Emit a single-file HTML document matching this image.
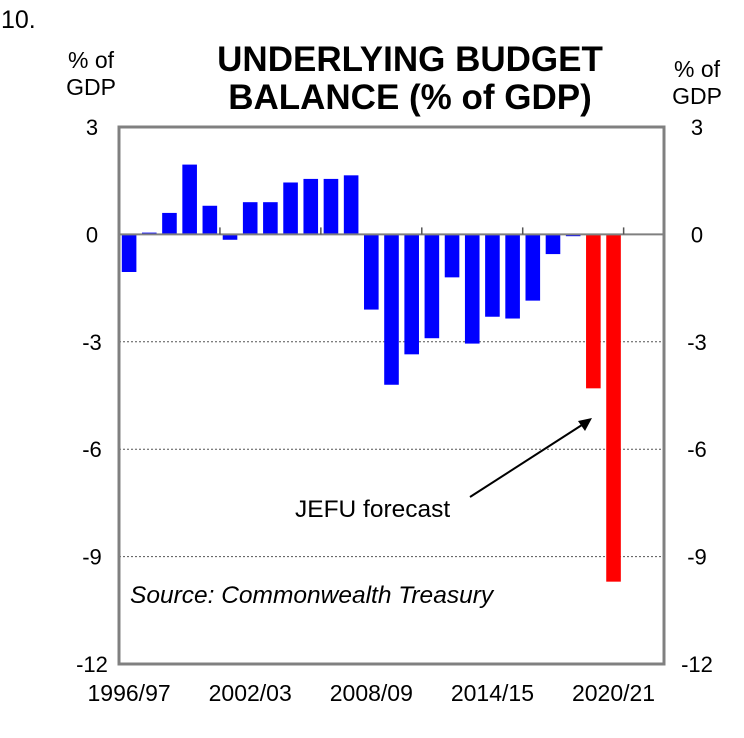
<!DOCTYPE html>
<html><head><meta charset="utf-8"><style>
body{margin:0;background:#fff;font-family:"Liberation Sans",Arial,sans-serif}
svg text{font-family:"Liberation Sans",Arial,sans-serif}
</style></head><body>
<svg id="chart" width="744" height="733" xmlns="http://www.w3.org/2000/svg">
<text x="1" y="28" font-size="25">10.</text>
<text x="410" y="71" font-size="35" font-weight="bold" text-anchor="middle">UNDERLYING BUDGET</text>
<text x="410" y="109" font-size="35" font-weight="bold" text-anchor="middle">BALANCE (% of GDP)</text>
<text x="91" y="68" font-size="23" text-anchor="middle">% of</text>
<text x="91" y="95" font-size="23" text-anchor="middle">GDP</text>
<text x="697" y="77" font-size="23" text-anchor="middle">% of</text>
<text x="697" y="104" font-size="23" text-anchor="middle">GDP</text>
<g id="grid"></g><g id="bars"></g><g id="axes"></g>
<text x="130" y="603" font-size="24.5" font-style="italic">Source: Commonwealth Treasury</text>
<text x="295" y="517" font-size="24.5">JEFU forecast</text>
<line x1="470" y1="497" x2="585" y2="423" stroke="#000" stroke-width="2"/>
<polygon points="592,418 578,421 585,431" fill="#000"/>
</svg>
<script>
const categories=["1996/97","1997/98","1998/99","1999/00","2000/01","2001/02","2002/03","2003/04","2004/05","2005/06","2006/07","2007/08","2008/09","2009/10","2010/11","2011/12","2012/13","2013/14","2014/15","2015/16","2016/17","2017/18","2018/19","2019/20","2020/21"];
const values=[-1.05,0.05,0.6,1.95,0.8,-0.15,0.9,0.9,1.45,1.55,1.55,1.65,-2.1,-4.2,-3.35,-2.9,-1.2,-3.05,-2.3,-2.35,-1.85,-0.55,-0.05,-4.3,-9.7];
const forecast=[0,0,0,0,0,0,0,0,0,0,0,0,0,0,0,0,0,0,0,0,0,0,0,1,1];
const yTicks=[3,0,-3,-6,-9,-12];
const xTickLabels=["1996/97","2002/03","2008/09","2014/15","2020/21"];
const L=119,R=664,T=127,B=664,slots=27,yMax=3,yMin=-12;
const sw=(R-L)/slots;
const y=v=>T+(yMax-v)/(yMax-yMin)*(B-T);
const x=i=>L+sw*(i+0.5);
const NS="http://www.w3.org/2000/svg";
function mk(t,a,p){const e=document.createElementNS(NS,t);for(const k in a)e.setAttribute(k,a[k]);p.appendChild(e);return e;}
const grid=document.getElementById('grid'),bars=document.getElementById('bars'),axes=document.getElementById('axes');
yTicks.forEach(v=>{
  if(v<0&&v>yMin){const l=mk('line',{x1:L,x2:R,y1:y(v),y2:y(v),stroke:'#555','stroke-width':1,'stroke-dasharray':'2,2'},grid);
  
  }
  const a=mk('text',{x:92,y:y(v)+8,'font-size':22,'text-anchor':'middle'},axes);a.textContent=v;
  
  
  const b=mk('text',{x:697,y:y(v)+8,'font-size':22,'text-anchor':'middle'},axes);b.textContent=v;
  
  
});
values.forEach((v,i)=>{
  const y0=y(0),y1=y(v);
  const r=mk('rect',{x:x(i)-7.3,width:14.6,y:Math.min(y0,y1),height:Math.max(1,Math.abs(y1-y0)),fill:forecast[i]?'#ff0000':'#0000ff'},bars);
  
  
});
const z=mk('line',{x1:L,x2:R,y1:y(0),y2:y(0),stroke:'#808080','stroke-width':2},axes);


for(let k=5;k<slots;k+=5){const t=mk('line',{x1:L+k*sw,x2:L+k*sw,y1:y(0)-7,y2:y(0),stroke:'#555','stroke-width':1.5},axes);

}
const f=mk('rect',{x:L,y:T,width:R-L,height:B-T,fill:'none',stroke:'#808080','stroke-width':3},axes);


xTickLabels.forEach(lbl=>{const i=categories.indexOf(lbl);
  const t=mk('text',{x:x(i),y:701,'font-size':23,'text-anchor':'middle'},axes);t.textContent=lbl;
  
  });
</script>
</body></html>
